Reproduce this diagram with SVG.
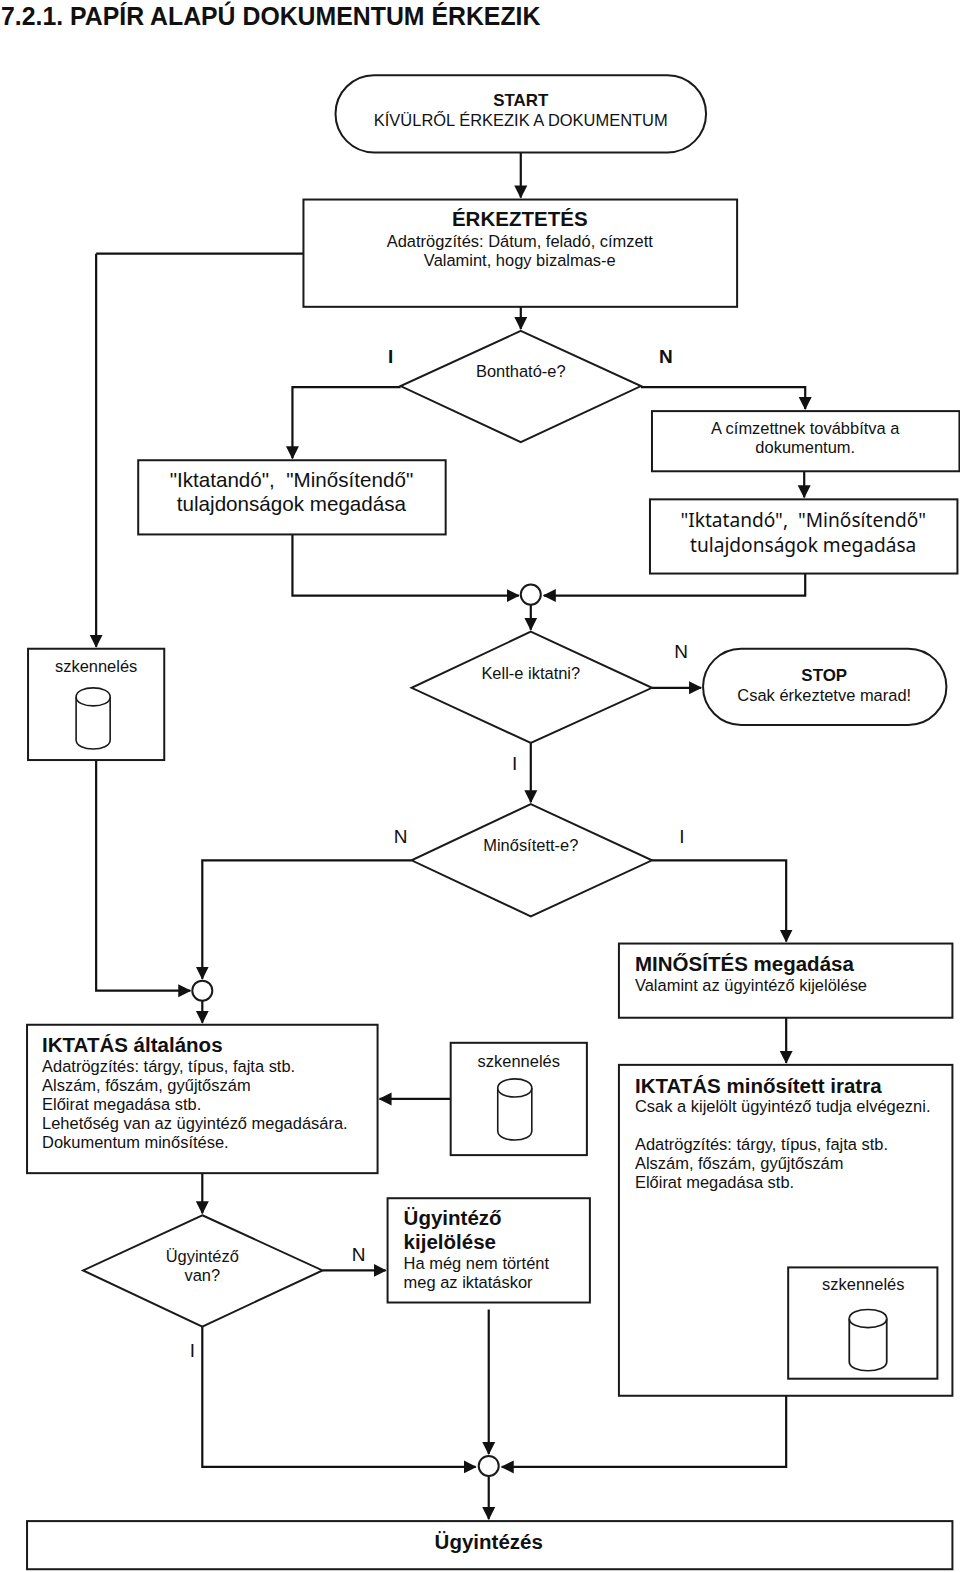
<svg xmlns="http://www.w3.org/2000/svg" width="960" height="1572" viewBox="0 0 960 1572">
<style>
text{font-family:"Liberation Sans",Arial,sans-serif;fill:#111;font-size:16.45px;white-space:pre}
.c{text-anchor:middle}
.b{font-weight:bold;font-size:16.9px}
.h{font-weight:bold;font-size:20.5px}
.l{font-size:19px}
.m{font-size:20.6px}
.v{font-family:"Noto Sans",sans-serif;font-size:19.1px}
.s{fill:#fff;stroke:#1a1a1a;stroke-width:2}
.cy{fill:#fff;stroke:#1a1a1a;stroke-width:1.6}
#connectors path{fill:none;stroke:#111;stroke-width:2.2;marker-end:url(#a)}
#connectors path.n{marker-end:none}
</style>
<defs>
<marker id="a" markerUnits="userSpaceOnUse" markerWidth="15" markerHeight="15" refX="12" refY="7" orient="auto"><path d="M0 0.5L13 7L0 13.5Z" fill="#111"/></marker>
<symbol id="cyl" overflow="visible"><path class="cy" d="M0 9C0 -3 34 -3 34 9V52C34 64 0 64 0 52Z"/><path class="cy" fill="none" d="M0 9C0 21 34 21 34 9"/></symbol>
</defs>
<rect width="960" height="1572" fill="#fff"/>
<g transform="scale(1.0015 1.0027)">
<text id="title" x="1" y="25" class="b" style="font-size:24.8px">7.2.1. PAPÍR ALAPÚ DOKUMENTUM ÉRKEZIK</text>
<g id="connectors">
<path d="M520 152V197"/>
<path d="M520 306V328"/>
<path class="n" d="M303 253H96"/>
<path d="M96 253V645"/>
<path d="M400 386H292V457"/>
<path d="M640 386H804V408"/>
<path d="M803 470V496"/>
<path d="M292 533V594H518"/>
<path d="M804 572V594H543"/>
<path d="M530 603V628"/>
<path d="M651 686H700"/>
<path d="M530 741V800"/>
<path d="M411 858H202V976"/>
<path d="M651 858H785V939"/>
<path d="M96 758V988H190"/>
<path d="M202 998V1020"/>
<path d="M785 1015V1060"/>
<path d="M450 1096H379"/>
<path d="M202 1170V1210"/>
<path d="M322 1267H385"/>
<path d="M202 1323V1463H475"/>
<path d="M488 1306V1450"/>
<path d="M785 1392V1463H501"/>
<path d="M488 1472V1515"/>
</g>
<g id="start"><rect class="s" x="335" y="75" width="370" height="77" rx="38.5"/><text x="520" y="106" class="c b">START</text><text x="520" y="126" class="c">KÍVÜLRŐL ÉRKEZIK A DOKUMENTUM</text></g>
<g id="erkeztetes"><rect class="s" x="303" y="199" width="433" height="107"/><text x="519" y="225" class="c h">ÉRKEZTETÉS</text><text x="519" y="246" class="c">Adatrögzítés: Dátum, feladó, címzett</text><text x="519" y="265" class="c">Valamint, hogy bizalmas-e</text></g>
<g id="bonthato"><path class="s" d="M520 330L640 385L520 441L400 385Z"/><text x="520" y="376" class="c">Bontható-e?</text></g>
<g id="bonthato-labels"><text x="390" y="362" class="c b l">I</text><text x="665" y="362" class="c b l">N</text></g>
<g id="iktatando-bal"><rect class="s" x="138" y="459" width="307" height="74"/><text x="291" y="486" class="c m">"Iktatandó",  "Minősítendő"</text><text x="291" y="510" class="c m">tulajdonságok megadása</text></g>
<g id="cimzett"><rect class="s" x="651" y="410" width="307" height="60"/><text x="804" y="433" class="c">A címzettnek továbbítva a</text><text x="804" y="452" class="c">dokumentum.</text></g>
<g id="iktatando-jobb"><rect class="s" x="649" y="498" width="307" height="74"/><text x="802" y="526" class="c v">"Iktatandó",  "Minősítendő"</text><text x="802" y="551" class="c v">tulajdonságok megadása</text></g>
<g id="merge1"><circle class="s" cx="530" cy="593" r="10"/></g>
<g id="szken1"><rect class="s" x="28" y="647" width="136" height="111"/><text x="96" y="670" class="c">szkennelés</text><use href="#cyl" x="76" y="686"/></g>
<g id="kelle"><path class="s" d="M530 630L651 686L530 741L411 686Z"/><text x="530" y="677" class="c">Kell-e iktatni?</text></g>
<text x="680" y="656" class="c l">N</text>
<g id="stop"><rect class="s" x="702" y="647" width="243" height="76" rx="38"/><text x="823" y="679" class="c b">STOP</text><text x="823" y="699" class="c">Csak érkeztetve marad!</text></g>
<text x="514" y="768" class="c l">I</text>
<g id="minositett"><path class="s" d="M530 802L651 858L530 914L411 858Z"/><text x="530" y="849" class="c">Minősített-e?</text></g>
<text x="400" y="841" class="c l">N</text><text x="681" y="841" class="c l">I</text>
<g id="minosites"><rect class="s" x="618" y="941" width="333" height="74"/><text x="634" y="968" class="h">MINŐSÍTÉS megadása</text><text x="634" y="988">Valamint az ügyintéző kijelölése</text></g>
<g id="merge2"><circle class="s" cx="202" cy="988" r="10"/></g>
<g id="iktatas-alt"><rect class="s" x="27" y="1022" width="350" height="148"/><text x="42" y="1049" class="h">IKTATÁS általános</text><text x="42" y="1069">Adatrögzítés: tárgy, típus, fajta stb.</text><text x="42" y="1088">Alszám, főszám, gyűjtőszám</text><text x="42" y="1107">Előirat megadása stb.</text><text x="42" y="1126">Lehetőség van az ügyintéző megadására.</text><text x="42" y="1145">Dokumentum minősítése.</text></g>
<g id="szken2"><rect class="s" x="450" y="1040" width="136" height="112"/><text x="518" y="1064" class="c">szkennelés</text><use href="#cyl" x="497" y="1076"/></g>
<g id="iktatas-min"><rect class="s" x="618" y="1062" width="333" height="330"/><text x="634" y="1090" class="h">IKTATÁS minősített iratra</text><text x="634" y="1109">Csak a kijelölt ügyintéző tudja elvégezni.</text><text x="634" y="1147">Adatrögzítés: tárgy, típus, fajta stb.</text><text x="634" y="1166">Alszám, főszám, gyűjtőszám</text><text x="634" y="1185">Előirat megadása stb.</text></g>
<g id="szken3"><rect class="s" x="787" y="1264" width="149" height="111"/><text x="862" y="1287" class="c">szkennelés</text><use href="#cyl" transform="translate(848 1306) scale(1.1 1)"/></g>
<g id="ugyintezo-van"><path class="s" d="M202 1212L322 1267L202 1323L83 1267Z"/><text x="202" y="1259" class="c">Ügyintéző</text><text x="202" y="1278" class="c">van?</text></g>
<text x="358" y="1258" class="c l">N</text><text x="192" y="1353" class="c l">I</text>
<g id="kijeloles"><rect class="s" x="387" y="1195" width="202" height="104"/><text x="403" y="1222" class="h">Ügyintéző</text><text x="403" y="1246" class="h">kijelölése</text><text x="403" y="1266">Ha még nem történt</text><text x="403" y="1285">meg az iktatáskor</text></g>
<g id="merge3"><circle class="s" cx="488" cy="1462" r="10"/></g>
<g id="ugyintezes"><rect class="s" x="27" y="1517" width="924" height="48"/><text x="488" y="1545" class="c b" style="font-size:20.5px">Ügyintézés</text></g>
</g>
</svg>
